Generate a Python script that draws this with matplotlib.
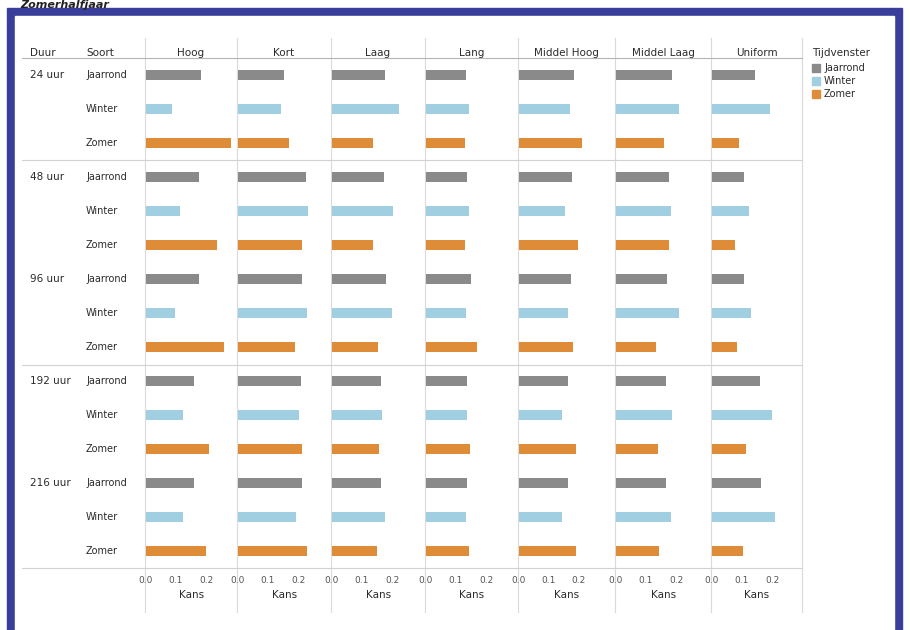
import matplotlib.pyplot as plt
from matplotlib.patches import Rectangle
from matplotlib.lines import Line2D

# data
duur = ["24 uur", "48 uur", "96 uur", "192 uur", "216 uur"]
soort = ["Jaarrond", "Winter", "Zomer"]
kolommen = ["Hoog", "Kort", "Laag", "Lang", "Middel Hoog", "Middel Laag", "Uniform"]

# rows = duur, columns = kolommen
kans_jaarrond = [
    [0.183, 0.153, 0.177, 0.133, 0.183, 0.187, 0.143],
    [0.176, 0.226, 0.172, 0.138, 0.178, 0.177, 0.106],
    [0.176, 0.212, 0.179, 0.151, 0.173, 0.171, 0.107],
    [0.159, 0.211, 0.162, 0.138, 0.164, 0.167, 0.161],
    [0.159, 0.213, 0.164, 0.138, 0.164, 0.167, 0.162],
]
kans_winter = [
    [0.087, 0.143, 0.223, 0.143, 0.170, 0.210, 0.193],
    [0.113, 0.234, 0.204, 0.144, 0.153, 0.182, 0.123],
    [0.098, 0.230, 0.200, 0.132, 0.164, 0.211, 0.129],
    [0.124, 0.204, 0.167, 0.138, 0.144, 0.186, 0.200],
    [0.124, 0.194, 0.176, 0.132, 0.143, 0.183, 0.209],
]
kans_zomer = [
    [0.283, 0.170, 0.137, 0.130, 0.210, 0.160, 0.090],
    [0.236, 0.212, 0.138, 0.130, 0.198, 0.176, 0.076],
    [0.261, 0.190, 0.152, 0.170, 0.181, 0.133, 0.082],
    [0.211, 0.212, 0.158, 0.146, 0.190, 0.141, 0.114],
    [0.201, 0.231, 0.151, 0.143, 0.191, 0.142, 0.103],
]
kleuren = ["#8a8a8a", "#9fcfe0", "#de8c38"]

W, H = 910, 630
fig = plt.figure(figsize=(W / 100, H / 100), dpi=100)

def fx(x):
    return x / W

def fy(y):
    return 1 - y / H

# blue frame
fig.patches.append(Rectangle((fx(7), fy(660)), fx(902) - fx(7), fy(8) - fy(660),
                             transform=fig.transFigure, color="#3a3e9b", zorder=-3))
fig.patches.append(Rectangle((fx(15), fy(660)), fx(894) - fx(15), fy(16) - fy(660),
                             transform=fig.transFigure, color="white", zorder=-2))
fig.text(fx(20), fy(7.5), "Zomerhalfjaar", fontsize=8, fontweight="bold",
         fontstyle="italic", color="#222222", va="baseline")

grenzen = [145, 237, 331, 425, 518, 615, 711, 802]
top, bottom = 58, 568

# grid lines
for x in grenzen:
    fig.add_artist(Line2D([fx(x), fx(x)], [fy(38), fy(612)], color="#dadada",
                          lw=0.8, zorder=-1))
for y, c in [(58, "#b5b5b5"), (160, "#d2d2d2"), (365, "#d2d2d2"), (568, "#d2d2d2")]:
    fig.add_artist(Line2D([fx(22), fx(802)], [fy(y), fy(y)], color=c, lw=0.8, zorder=-1))

tekst = "#2b2b2b"
fig.text(fx(30), fy(53), "Duur", fontsize=7.5, color=tekst, va="center")
fig.text(fx(86), fy(53), "Soort", fontsize=7.5, color=tekst, va="center")

n_rij = len(duur) * len(soort)
rij_h = (bottom - top) / n_rij
for d, naam in enumerate(duur):
    y0 = top + rij_h * (d * 3 + 0.5)
    fig.text(fx(30), fy(y0), naam, fontsize=7.5, color=tekst, va="center")
    for s, sn in enumerate(soort):
        ys = top + rij_h * (d * 3 + s + 0.5)
        fig.text(fx(86), fy(ys), sn, fontsize=7, color=tekst, va="center")

reeksen = [kans_jaarrond, kans_winter, kans_zomer]
for k, kol in enumerate(kolommen):
    L, R = grenzen[k], grenzen[k + 1]
    ax = fig.add_axes([fx(L + 1), fy(bottom), (R - L - 1) / W, (bottom - top) / H])
    ax.patch.set_alpha(0)
    for s in range(3):
        ys = [d * 3 + s for d in range(len(duur))]
        vals = [reeksen[s][d][k] for d in range(len(duur))]
        ax.barh(ys, vals, height=0.28, color=kleuren[s])
    ax.set_ylim(n_rij - 0.5, -0.5)
    ax.set_xlim(0, (R - L - 1) / 300)
    ax.set_yticks([])
    ax.set_xticks([0, 0.1, 0.2])
    ax.set_xticklabels(["0.0", "0.1", "0.2"])
    ax.tick_params(axis="x", length=0, labelsize=6.5, labelcolor="#555555", pad=6)
    ax.set_xlabel("Kans", fontsize=7.5, color=tekst, labelpad=3)
    for sp in ax.spines.values():
        sp.set_visible(False)
    fig.text(fx((L + R) / 2), fy(53), kol, fontsize=7.5, color=tekst,
             ha="center", va="center")

# legend
fig.text(fx(812), fy(53), "Tijdvenster", fontsize=7.5, color=tekst, va="center")
for s, sn in enumerate(soort):
    y = 68 + s * 13
    fig.patches.append(Rectangle((fx(812), fy(y + 4)), 8 / W, 8 / H,
                                 transform=fig.transFigure, color=kleuren[s]))
    fig.text(fx(824), fy(y), sn, fontsize=7, color=tekst, va="center")

fig.savefig("out.png", dpi=100)
